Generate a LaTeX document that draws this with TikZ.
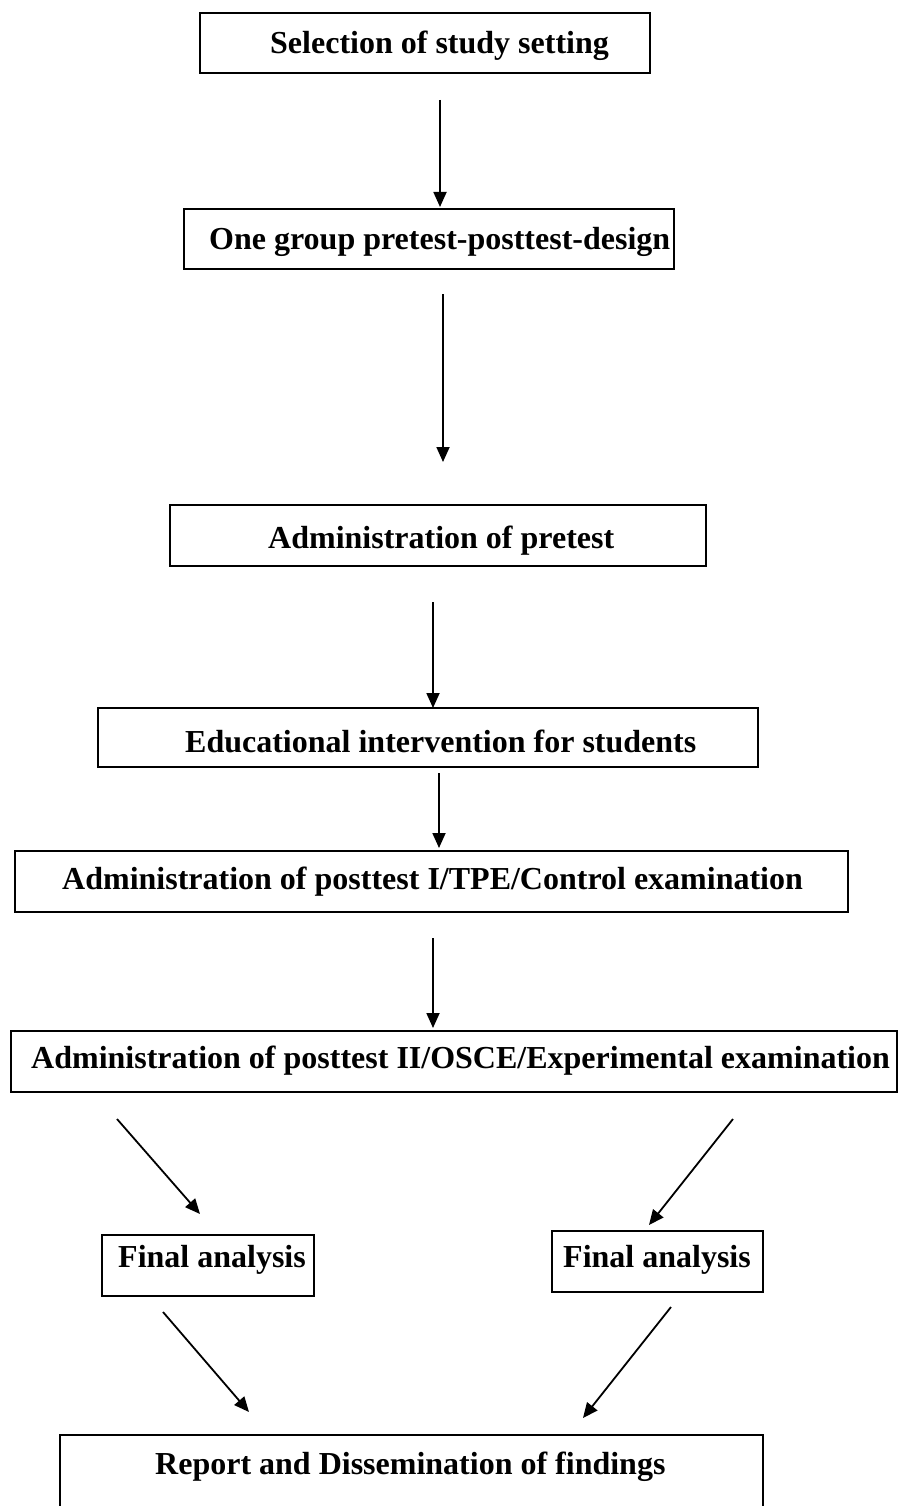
\documentclass[tikz,border=0pt]{standalone}
\usepackage{fontspec}
\setmainfont{Liberation Serif}
\usetikzlibrary{arrows.meta}
\begin{document}
\begin{tikzpicture}[x=1pt,y=-1pt,
  box/.style={draw, line width=1.6pt, inner sep=0pt, anchor=north west},
  lbl/.style={anchor=base west, inner sep=0pt, font=\fontsize{32}{38}\selectfont\bfseries},
  flow/.style={line width=1.8pt, -{Triangle[length=15pt,width=13pt]}}]
\useasboundingbox (0,0) rectangle (898,1506);
\clip (0,0) rectangle (898,1506);

% boxes
\node[box, minimum width=450pt, minimum height=60pt] (b1) at (199,12) {};
\node[box, minimum width=490pt, minimum height=60pt] (b2) at (183,208) {};
\node[box, minimum width=536pt, minimum height=61pt] (b3) at (169,504) {};
\node[box, minimum width=660pt, minimum height=59pt] (b4) at (97,707) {};
\node[box, minimum width=833pt, minimum height=61pt] (b5) at (14,850) {};
\node[box, minimum width=886pt, minimum height=61pt] (b6) at (10,1030) {};
\node[box, minimum width=212pt, minimum height=61pt] (fa1) at (101,1234) {};
\node[box, minimum width=211pt, minimum height=61pt] (fa2) at (551,1230) {};
\node[box, minimum width=703pt, minimum height=110pt] (rep) at (59,1434) {};

% labels
\node[lbl] (t1) at (270,54) {Selection of study setting};
\node[lbl] (t2) at (209,250) {One group pretest-posttest-design};
\node[lbl] (t3) at (268,548) {Administration of pretest};
\node[lbl] (t4) at (185,752) {Educational intervention for students};
\node[lbl] (t5) at (62,889) {Administration of posttest I/TPE/Control examination};
\node[lbl] (t6) at (31,1068) {Administration of posttest II/OSCE/Experimental examination};
\node[lbl] (t7) at (118,1267) {Final analysis};
\node[lbl] (t8) at (563,1267) {Final analysis};
\node[lbl] (t9) at (155,1474) {Report and Dissemination of findings};

% connector ends
\coordinate (a1s) at (440,100);  \coordinate (a1e) at (440,207);
\coordinate (a2s) at (443,294);  \coordinate (a2e) at (443,462);
\coordinate (a3s) at (433,602);  \coordinate (a3e) at (433,708);
\coordinate (a4s) at (439,773);  \coordinate (a4e) at (439,848);
\coordinate (a5s) at (433,938);  \coordinate (a5e) at (433,1028);
\coordinate (a6s) at (117,1119); \coordinate (a6e) at (200,1214);
\coordinate (a7s) at (733,1119); \coordinate (a7e) at (649,1225);
\coordinate (a8s) at (163,1312); \coordinate (a8e) at (249,1412);
\coordinate (a9s) at (671,1307); \coordinate (a9e) at (583,1418);

% connectors
\draw[flow] (a1s) -- (a1e);
\draw[flow] (a2s) -- (a2e);
\draw[flow] (a3s) -- (a3e);
\draw[flow] (a4s) -- (a4e);
\draw[flow] (a5s) -- (a5e);
\draw[flow] (a6s) -- (a6e);
\draw[flow] (a7s) -- (a7e);
\draw[flow] (a8s) -- (a8e);
\draw[flow] (a9s) -- (a9e);
\end{tikzpicture}
\end{document}
